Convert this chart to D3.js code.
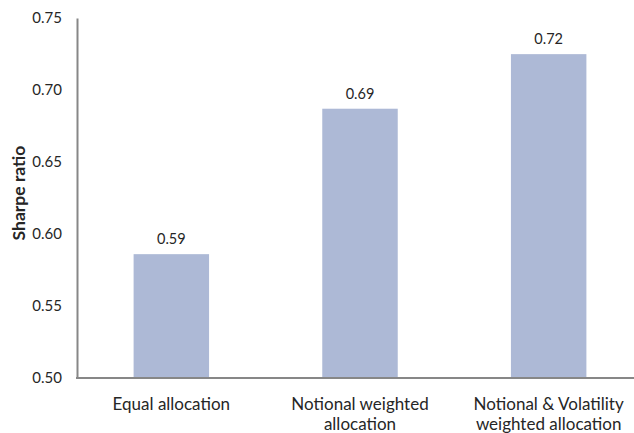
<!DOCTYPE html>
<html>
<head>
<meta charset="utf-8">
<script src="https://cdn.jsdelivr.net/npm/d3@7"></script>
<style>
  html, body { margin: 0; padding: 0; background: #fff; }
  svg { display: block; font-family: Lato, "Open Sans", sans-serif; }
</style>
</head>
<body>
<svg id="chart" width="634" height="433"></svg>
<script>
// Sharpe ratio by allocation scheme
const categories = [
  ["Equal allocation"],
  ["Notional weighted", "allocation"],
  ["Notional & Volatility", "weighted allocation"]
];
const sharpe = [0.586, 0.687, 0.7249];
const yTicks = [0.50, 0.55, 0.60, 0.65, 0.70, 0.75];

const svg = d3.select("#chart");
const margin = { left: 77, top: 18, bottom: 55 };
const plotRight = 643;
const height = 433;

const x = d3.scaleBand()
  .domain(d3.range(categories.length))
  .range([margin.left, plotRight])
  .paddingInner(0.6)
  .paddingOuter(0.3);

const y = d3.scaleLinear()
  .domain([0.5, 0.75])
  .range([height - margin.bottom, margin.top]);

const axisColor = "#878787";
const textColor = "#262626";

// bars
svg.append("g").selectAll("rect")
  .data(sharpe)
  .join("rect")
  .attr("x", (d, i) => x(i))
  .attr("width", x.bandwidth())
  .attr("y", d => y(d))
  .attr("height", d => y(0.5) - y(d))
  .attr("fill", "#adb9d6");

// value labels
const fmt = d3.format(".2f");
svg.append("g").selectAll("text")
  .data(sharpe)
  .join("text")
  .attr("x", (d, i) => x(i) + x.bandwidth() / 2)
  .attr("y", d => y(d) - 10)
  .attr("text-anchor", "middle")
  .attr("font-size", 14.5)
  .attr("fill", textColor)
  .text(d => fmt(d));

// y axis
const yAxis = svg.append("g")
  .attr("transform", `translate(${margin.left},0)`)
  .call(d3.axisLeft(y).tickValues(yTicks).tickFormat(d3.format(".2f")).tickSize(0).tickPadding(15));
yAxis.select(".domain").attr("stroke", axisColor).attr("stroke-width", 2);
yAxis.selectAll("text").attr("font-size", 15).attr("fill", textColor).attr("font-family", "Lato, sans-serif");

// x axis baseline
svg.append("line")
  .attr("x1", margin.left - 1)
  .attr("x2", plotRight)
  .attr("y1", y(0.5))
  .attr("y2", y(0.5))
  .attr("stroke", axisColor)
  .attr("stroke-width", 2);

// category labels
const cat = svg.append("g").selectAll("text")
  .data(categories)
  .join("text")
  .attr("x", (d, i) => x(i) + x.bandwidth() / 2)
  .attr("y", y(0.5) + 32)
  .attr("text-anchor", "middle")
  .attr("font-size", 17)
  .attr("fill", textColor);
cat.selectAll("tspan")
  .data(d => d)
  .join("tspan")
  .attr("x", function () { return d3.select(this.parentNode).attr("x"); })
  .attr("dy", (d, i) => i === 0 ? 0 : 20)
  .text(d => d);

// y axis title
svg.append("text")
  .attr("transform", `translate(25,${(y(0.5) + y(0.75)) / 2 - 5}) rotate(-90)`)
  .attr("text-anchor", "middle")
  .attr("font-size", 17.5)
  .attr("font-weight", "bold")
  .attr("fill", textColor)
  .text("Sharpe ratio");
</script>
</body>
</html>
